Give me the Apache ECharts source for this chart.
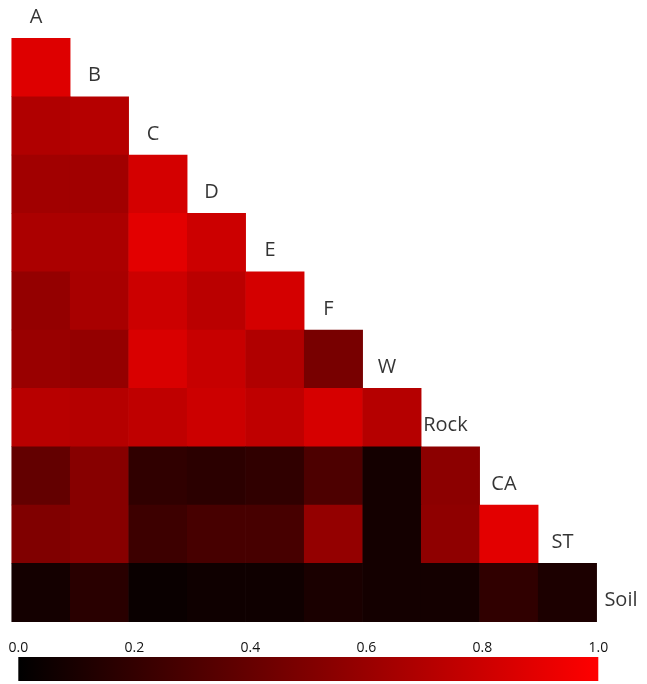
<!DOCTYPE html>
<html>
<head>
<meta charset="utf-8">
<script src="https://cdn.jsdelivr.net/npm/echarts@6/dist/echarts.min.js"></script>
<style>
  html, body { margin: 0; padding: 0; background: #ffffff; }
  #chart { width: 647px; height: 684px; }
</style>
</head>
<body>
<div id="chart"></div>
<script>
// Variable names (diagonal labels)
const variables = ['A', 'B', 'C', 'D', 'E', 'F', 'W', 'Rock', 'CA', 'ST', 'Soil'];

// Lower-triangle correlation values: each row lists its cells against A, B, C, ...
const rowB    = [0.87];
const rowC    = [0.69, 0.71];
const rowD    = [0.63, 0.63, 0.83];
const rowE    = [0.67, 0.67, 0.89, 0.80];
const rowF    = [0.58, 0.66, 0.80, 0.73, 0.83];
const rowW    = [0.60, 0.58, 0.85, 0.78, 0.69, 0.47];
const rowRock = [0.72, 0.71, 0.75, 0.80, 0.75, 0.84, 0.71];
const rowCA   = [0.39, 0.53, 0.19, 0.17, 0.19, 0.30, 0.08, 0.55];
const rowST   = [0.50, 0.53, 0.24, 0.28, 0.28, 0.58, 0.08, 0.56, 0.89];
const rowSoil = [0.08, 0.16, 0.04, 0.06, 0.06, 0.10, 0.08, 0.08, 0.19, 0.11];

// Colour bar ticks
const colorTicks = [0.0, 0.2, 0.4, 0.6, 0.8, 1.0];

const rows = [rowB, rowC, rowD, rowE, rowF, rowW, rowRock, rowCA, rowST, rowSoil];

const heatData = [];
rows.forEach(function (vals, r) {
  vals.forEach(function (v, c) {
    heatData.push([c, r + 1, v]);
  });
});

const labelData = variables.map(function (name, k) {
  return { name: name, value: [k, k] };
});

const cellW = 58.5, cellH = 58.34;
const n = variables.length;

const chart = echarts.init(document.getElementById('chart'), null, { renderer: 'canvas' });

chart.setOption({
  backgroundColor: '#ffffff',
  animation: false,
  grid: [
    { left: 11.7, top: 38.3 - cellH, width: cellW * n, height: cellH * n,
      containLabel: false, outerBoundsMode: 'none' },
    { left: 18.3, top: 657, width: 580, height: 24, containLabel: false, outerBoundsMode: 'none' }
  ],
  xAxis: [
    { type: 'category', gridIndex: 0, data: variables, show: false },
    {
      type: 'value', gridIndex: 1, min: colorTicks[0], max: colorTicks[colorTicks.length - 1],
      interval: 0.2, position: 'top',
      axisLine: { show: false }, axisTick: { show: false }, splitLine: { show: false },
      axisLabel: {
        show: true, margin: 2, fontSize: 14, color: '#111',
        fontFamily: 'Open Sans',
        formatter: function (v) { return v.toFixed(1); }
      }
    }
  ],
  yAxis: [
    { type: 'category', gridIndex: 0, data: variables, inverse: true, show: false },
    { type: 'category', gridIndex: 1, data: ['scale'], show: false }
  ],
  visualMap: {
    show: false, type: 'continuous', min: 0, max: 1, seriesIndex: 0,
    inRange: { color: ['#000000', '#ff0000'] }
  },
  series: [
    {
      type: 'heatmap', xAxisIndex: 0, yAxisIndex: 0,
      data: heatData,
      itemStyle: { borderWidth: 0 },
      emphasis: { disabled: true }
    },
    {
      type: 'scatter', xAxisIndex: 0, yAxisIndex: 0,
      data: labelData, symbolSize: 0, silent: true,
      label: {
        show: true, position: 'inside', formatter: '{b}',
        fontFamily: 'Open Sans', fontSize: 20, color: '#000',
        offset: [-5, 8]
      }
    },
    {
      type: 'bar', xAxisIndex: 1, yAxisIndex: 1,
      data: [1], barWidth: '100%', silent: true,
      itemStyle: {
        color: new echarts.graphic.LinearGradient(0, 0, 1, 0, [
          { offset: 0, color: '#000000' },
          { offset: 1, color: '#ff0000' }
        ])
      }
    }
  ]
});
</script>
</body>
</html>
